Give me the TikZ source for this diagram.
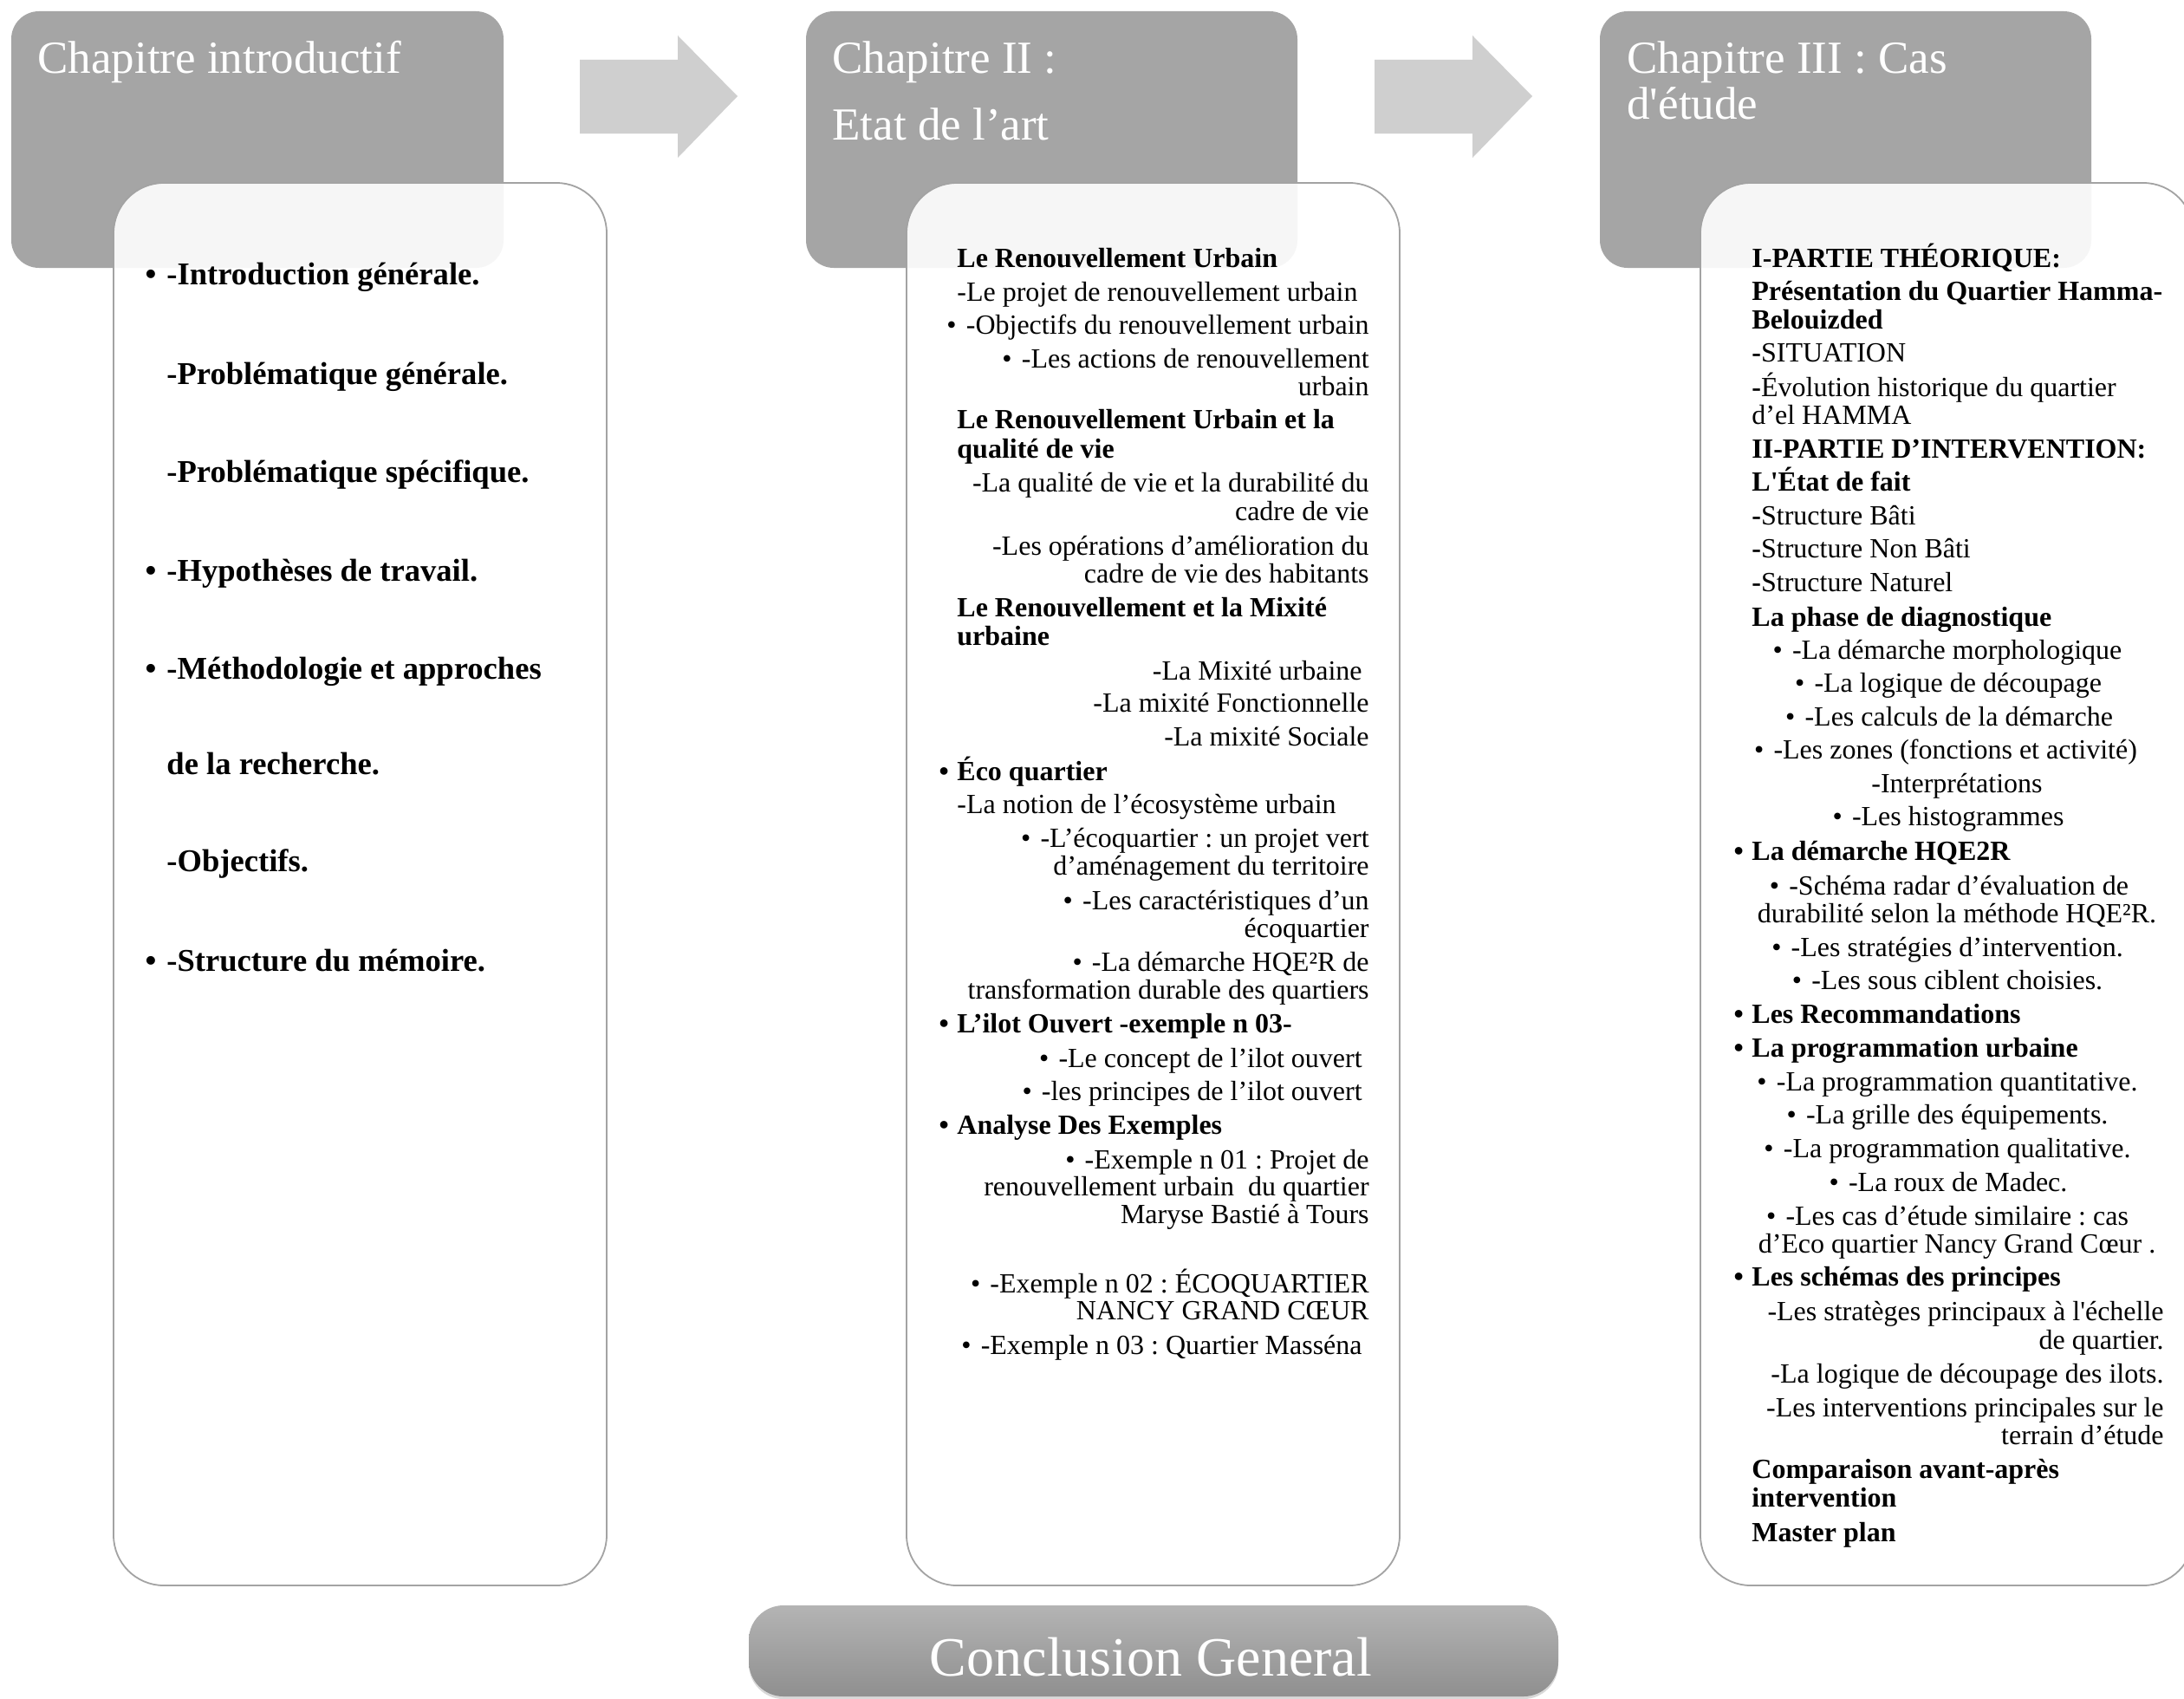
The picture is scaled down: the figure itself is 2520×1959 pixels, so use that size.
\documentclass[tikz,border=0pt]{standalone}
\usepackage{fontspec}
\setmainfont{Liberation Serif}
\newfontfamily\tnr{Liberation Serif}
\usetikzlibrary{shadows}
\definecolor{hdr}{HTML}{A5A5A5}
\definecolor{arr}{HTML}{CFCFCF}
\definecolor{bord}{HTML}{A3A3A3}
\definecolor{cTop}{HTML}{B4B4B4}
\definecolor{cBot}{HTML}{8F8F8F}
\newcommand\mybul{•\hspace{0.35em}}
\newcommand\mylbul{\llap{•\hspace{0.3em}}}
\frenchspacing
\begin{document}
\frenchspacing
\begin{tikzpicture}[x=0.5pt,y=-0.5pt,
  hdrbox/.style={fill=hdr, rounded corners=16pt},
  arrowshape/.style={fill=arr},
  cbox/.style={fill=white, fill opacity=0.9, draw=bord, line width=0.9pt, rounded corners=29pt},
  concl/.style={top color=cTop, bottom color=cBot, rounded corners=20pt,
     drop shadow={opacity=0.3, shadow xshift=0pt, shadow yshift=-1.5pt}},
  ttl/.style={inner sep=0pt, anchor=base west, text=white, font=\tnr\frenchspacing\fontsize{26.5}{30}\selectfont},
  body/.style={inner sep=0pt, font=\tnr\frenchspacing\fontsize{16}{18}\selectfont},
  lline/.style={body, anchor=base west},
  rline/.style={body, anchor=base east},
  cline/.style={body, anchor=base},
  bline/.style={inner sep=0pt, anchor=base west, font=\tnr\frenchspacing\fontsize{16}{18}\selectfont\bfseries},
  oneline/.style={inner sep=0pt, anchor=base west, font=\tnr\frenchspacing\fontsize{18.3}{20}\selectfont\bfseries}]
\useasboundingbox (0,0) rectangle (2520,1959);
\fill[white] (0,0) rectangle (2520,1959);

% header boxes
\fill[hdrbox] (13,13) rectangle (581,309);
\fill[hdrbox] (930,13) rectangle (1497,309);
\fill[hdrbox] (1846,13) rectangle (2413,309);

% arrows
\fill[arrowshape] (669,69) -- (782,69) -- (782,41) -- (851,111) -- (782,182) -- (782,154) -- (669,154) -- cycle;
\fill[arrowshape] (1586,69) -- (1699,69) -- (1699,41) -- (1768,111) -- (1699,182) -- (1699,154) -- (1586,154) -- cycle;

% content boxes
\filldraw[cbox] (131,211) rectangle (700,1829);
\filldraw[cbox] (1046,211) rectangle (1615,1829);
\filldraw[cbox] (1962,211) rectangle (2531,1829);

% conclusion
\path[concl] (864,1852) rectangle (1798,1957);
\node[inner sep=0pt, anchor=base, text=white, font=\tnr\fontsize{32}{36}\selectfont] (conct) at (1328,1933) {Conclusion General};

% titles
\node[ttl] (t1) at (43,85) {Chapitre introductif};
\node[ttl] (t2a) at (960,85) {Chapitre II :};
\node[ttl] (t2b) at (960,162) {Etat de l’art};
\node[ttl] (t3a) at (1877,85) {Chapitre III : Cas};
\node[ttl] (t3b) at (1877,138) {d'étude};

% column 1
\node[oneline] (c1a) at (192,328) {\llap{•\hspace{0.33em}}-Introduction générale.};
\node[oneline] (c1b) at (192,443) {-Problématique générale.};
\node[oneline] (c1c) at (192,556) {-Problématique spécifique.};
\node[oneline] (c1d) at (192,670) {\llap{•\hspace{0.33em}}-Hypothèses de travail.};
\node[oneline] (c1e) at (192,783) {\llap{•\hspace{0.33em}}-Méthodologie et approches};
\node[oneline] (c1f) at (192,893) {de la recherche.};
\node[oneline] (c1g) at (192,1005) {-Objectifs.};
\node[oneline] (c1h) at (192,1120) {\llap{•\hspace{0.33em}}-Structure du mémoire.};

% column 2
\node[bline] (c2a) at (1104,308) {Le Renouvellement Urbain};
\node[lline] (c2b) at (1104,347) {-Le projet de renouvellement urbain};
\node[rline] (c2c) at (1580,385) {\mybul-Objectifs du renouvellement urbain};
\node[rline] (c2d) at (1580,424) {\mybul-Les actions de renouvellement};
\node[rline] (c2e) at (1580,456) {urbain};
\node[bline] (c2f) at (1104,494) {Le Renouvellement Urbain et la};
\node[bline] (c2g) at (1104,528) {qualité de vie};
\node[rline] (c2h) at (1580,567) {-La qualité de vie et la durabilité du};
\node[rline] (c2i) at (1580,600) {cadre de vie};
\node[rline] (c2j) at (1580,640) {-Les opérations d’amélioration du};
\node[rline] (c2k) at (1580,672) {cadre de vie des habitants};
\node[bline] (c2l) at (1104,711) {Le Renouvellement et la Mixité};
\node[bline] (c2m) at (1104,744) {urbaine};
\node[rline] (c2n) at (1572,784) {-La Mixité urbaine};
\node[rline] (c2o) at (1580,821) {-La mixité Fonctionnelle};
\node[rline] (c2p) at (1580,860) {-La mixité Sociale};
\node[bline] (c2q) at (1104,900) {\mylbul Éco quartier};
\node[lline] (c2r) at (1104,938) {-La notion de l’écosystème urbain};
\node[rline] (c2s) at (1580,977) {\mybul-L’écoquartier : un projet vert};
\node[rline] (c2t) at (1580,1009) {d’aménagement du territoire};
\node[rline] (c2u) at (1580,1049) {\mybul-Les caractéristiques d’un};
\node[rline] (c2v) at (1580,1081) {écoquartier};
\node[rline] (c2w) at (1580,1120) {\mybul-La démarche HQE²R de};
\node[rline] (c2x) at (1580,1152) {transformation durable des quartiers};
\node[bline] (c2y) at (1104,1191) {\mylbul L’ilot Ouvert -exemple n 03-};
\node[rline] (c2z) at (1572,1231) {\mybul-Le concept de l’ilot ouvert};
\node[rline] (c2aa) at (1572,1269) {\mybul-les principes de l’ilot ouvert};
\node[bline] (c2ab) at (1104,1308) {\mylbul Analyse Des Exemples};
\node[rline] (c2ac) at (1580,1348) {\mybul-Exemple n 01 : Projet de};
\node[rline] (c2ad) at (1580,1379) {renouvellement urbain\ \ du quartier};
\node[rline] (c2ae) at (1580,1411) {Maryse Bastié à Tours};
\node[rline] (c2af) at (1580,1491) {\mybul-Exemple n 02 : ÉCOQUARTIER};
\node[rline] (c2ag) at (1580,1522) {NANCY GRAND CŒUR};
\node[rline] (c2ah) at (1572,1562) {\mybul-Exemple n 03 : Quartier Masséna};

% column 3
\node[bline] (c3a) at (2021,308) {I-PARTIE THÉORIQUE:};
\node[bline] (c3b) at (2021,346) {Présentation du Quartier Hamma-};
\node[bline] (c3c) at (2021,379) {Belouizded};
\node[lline] (c3d) at (2021,417) {{\bfseries -}SITUATION};
\node[lline] (c3e) at (2021,457) {{\bfseries -}Évolution historique du quartier};
\node[lline] (c3f) at (2021,489) {d’el HAMMA};
\node[bline] (c3g) at (2021,528) {II-PARTIE D’INTERVENTION:};
\node[bline] (c3h) at (2021,566) {L'État de fait};
\node[lline] (c3i) at (2021,605) {{\bfseries -}Structure Bâti};
\node[lline] (c3j) at (2021,643) {{\bfseries -}Structure Non Bâti};
\node[lline] (c3k) at (2021,682) {{\bfseries -}Structure Naturel};
\node[bline] (c3l) at (2021,722) {La phase de diagnostique};
\node[cline] (c3m) at (2247,760) {\mybul-La démarche morphologique};
\node[cline] (c3n) at (2248,798) {\mybul-La logique de découpage};
\node[cline] (c3o) at (2249,837) {\mybul-Les calculs de la démarche};
\node[cline] (c3p) at (2245,875) {\mybul-Les zones (fonctions et activité)};
\node[cline] (c3q) at (2258,914) {-Interprétations};
\node[cline] (c3r) at (2248,952) {\mybul-Les histogrammes};
\node[bline] (c3s) at (2021,992) {\mylbul La démarche HQE2R};
\node[cline] (c3t) at (2249,1032) {\mybul-Schéma radar d’évaluation de};
\node[cline] (c3u) at (2258,1064) {durabilité selon la méthode HQE²R.};
\node[cline] (c3v) at (2247,1103) {\mybul-Les stratégies d’intervention.};
\node[cline] (c3w) at (2247,1141) {\mybul-Les sous ciblent choisies.};
\node[bline] (c3x) at (2021,1180) {\mylbul Les Recommandations};
\node[bline] (c3y) at (2021,1219) {\mylbul La programmation urbaine};
\node[cline] (c3z) at (2247,1258) {\mybul-La programmation quantitative.};
\node[cline] (c3aa) at (2247,1296) {\mybul-La grille des équipements.};
\node[cline] (c3ab) at (2247,1335) {\mybul-La programmation qualitative.};
\node[cline] (c3ac) at (2248,1374) {\mybul-La roux de Madec.};
\node[cline] (c3ad) at (2247,1413) {\mybul-Les cas d’étude similaire : cas};
\node[cline] (c3ae) at (2258,1445) {d’Eco quartier Nancy Grand Cœur .};
\node[bline] (c3af) at (2021,1483) {\mylbul Les schémas des principes};
\node[rline] (c3ag) at (2497,1523) {-Les stratèges principaux à l'échelle};
\node[rline] (c3ah) at (2497,1556) {de quartier.};
\node[rline] (c3ai) at (2497,1595) {-La logique de découpage des ilots.};
\node[rline] (c3aj) at (2497,1634) {-Les interventions principales sur le};
\node[rline] (c3ak) at (2497,1666) {terrain d’étude};
\node[bline] (c3al) at (2021,1705) {Comparaison avant-après};
\node[bline] (c3am) at (2021,1738) {intervention};
\node[bline] (c3an) at (2021,1778) {Master plan};
\end{tikzpicture}
\end{document}
